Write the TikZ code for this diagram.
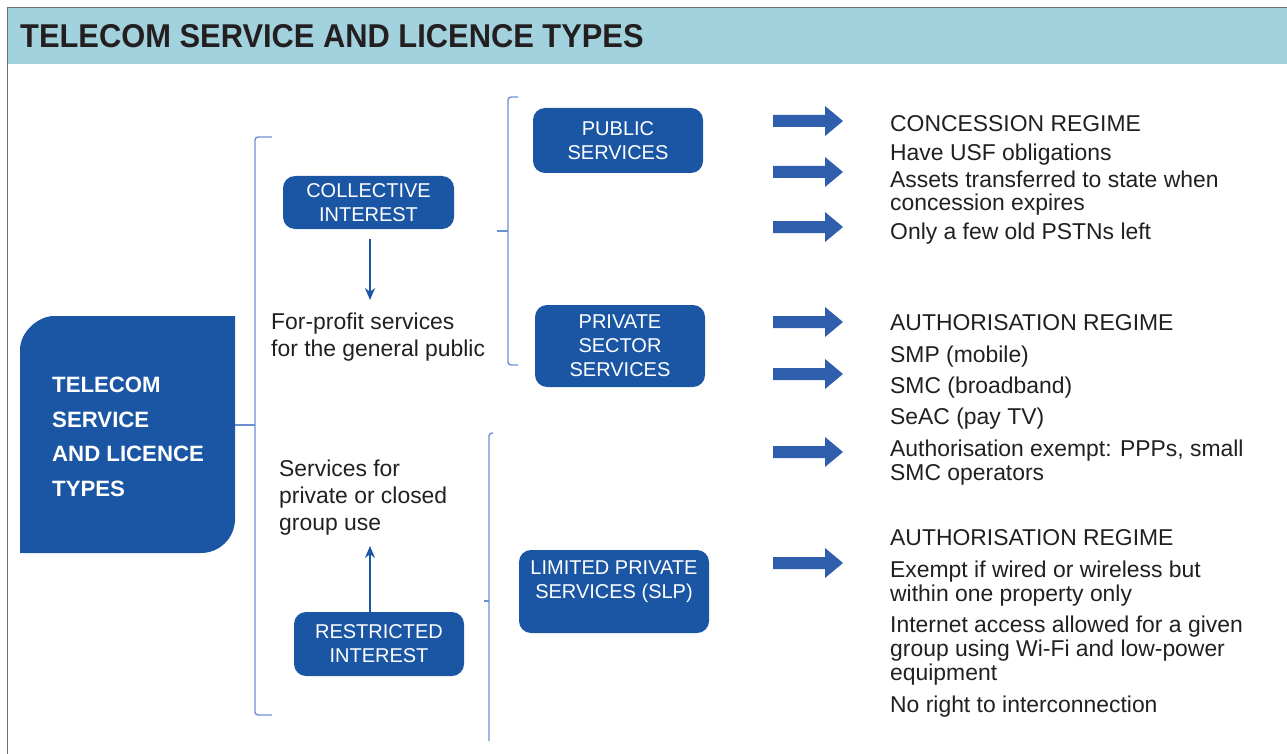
\documentclass[tikz,border=0pt]{standalone}
\usepackage{fontspec}
\setmainfont{Liberation Sans}
\usetikzlibrary{arrows.meta}

\definecolor{boxblue}{HTML}{1B56A4}
\definecolor{bracketblue}{HTML}{6B90D2}
\definecolor{bandblue}{HTML}{A3D2DF}
\definecolor{arrowblue}{HTML}{2E5EAC}
\definecolor{inkdark}{HTML}{231F20}
\definecolor{framegrey}{HTML}{6E6E6E}

\begin{document}
\begin{tikzpicture}[x=1pt,y=-1pt,
  svcbox/.style={fill=boxblue, rounded corners=12pt, inner sep=0pt, text=white,
    align=center, font=\fontsize{20}{24}\selectfont},
  plain/.style={anchor=base west, inner sep=0pt, text=inkdark,
    font=\fontsize{22.9}{27}\selectfont},
  bracket/.style={draw=bracketblue, line width=1.4pt, rounded corners=3pt},
  thinarrow/.style={draw=boxblue, line width=1.2pt, -{Stealth[length=12pt,width=10pt]}},
  blockarrow/.style={fill=arrowblue}]

\useasboundingbox (0,0) rectangle (1287,754);

% frame and title band
\fill[bandblue] (8,8) rectangle (1287,64);
\draw[framegrey, line width=1.5pt] (7.5,754) -- (7.5,7.5) -- (1287,7.5);
\node[anchor=base west, inner sep=0pt, text=inkdark,
      font=\fontsize{33}{33}\selectfont\bfseries] (title) at (20,48)
  {\scalebox{0.935}[1]{TELECOM SERVICE AND LICENCE TYPES}};

% main block, rounded at top-left and bottom-right
\fill[boxblue] (20,553) -- (20,350) .. controls (20,331.2) and (38.8,316) .. (54,316)
  -- (235,316) -- (235,519) .. controls (235,537.8) and (219.8,553) .. (201,553) -- cycle;
\node[anchor=west, inner sep=0pt, text=white, align=left,
      font=\fontsize{22.2}{34.5}\selectfont\bfseries] (main) at (52,437)
  {TELECOM\\SERVICE\\AND LICENCE\\TYPES};
\coordinate (mainport) at (235,425);

% first-level bracket
\draw[bracket] (272,137) -- (255,137) -- (255,715) -- (272,715);
\draw[bracket, rounded corners=0pt] (mainport) -- (255,425);

% collective interest branch
\node[svcbox, minimum width=171pt, minimum height=53pt] (ci) at (368.5,202.5)
  {COLLECTIVE\\INTEREST};
\node[plain] (fp1) at (271,329) {For-profit services};
\node[plain] (fp2) at (271,356) {for the general public};
\draw[thinarrow] ([yshift=-10pt]ci.south -| 370,0) -- (370,300);

% restricted interest branch
\node[plain] (sv1) at (279,476) {Services for};
\node[plain] (sv2) at (279,503) {private or closed};
\node[plain] (sv3) at (279,530) {group use};
\node[svcbox, minimum width=170pt, minimum height=64pt] (ri) at (379,644)
  {RESTRICTED\\INTEREST};
\draw[thinarrow] ([yshift=-4pt]ri.north -| 370,0) -- (370,546);

% second-level bracket: collective interest
\draw[bracket] (518,97) -- (508,97) -- (508,365) -- (518,365);
\draw[bracket, rounded corners=0pt] (497,231) -- (508,231);

% second-level bracket: restricted interest
\draw[bracket] (493,433) -- (489,433) -- (489,741);
\draw[bracket, rounded corners=0pt] (484,601) -- (489,601);

% service boxes
\node[svcbox, minimum width=170pt, minimum height=65pt] (pub) at (618,140.5)
  {PUBLIC\\SERVICES};
\node[svcbox, minimum width=170pt, minimum height=82pt] (priv) at (620,346)
  {PRIVATE\\SECTOR\\SERVICES};
\node[svcbox, minimum width=190pt, minimum height=83pt] (slp) at (614,591.5) {};
\node[inner sep=0pt, text=white, align=center,
      font=\fontsize{20}{24}\selectfont] (slptext) at (614,582)
  {LIMITED PRIVATE\\SERVICES (SLP)};

% block arrows
\foreach \y in {121,172,227,322,374,452,563}
  \fill[blockarrow] (773,\y-6) -- (825,\y-6) -- (825,\y-15) -- (843,\y)
    -- (825,\y+15) -- (825,\y+6) -- (773,\y+6) -- cycle;

% concession regime
\node[plain] (c1) at (890,132) {CONCESSION REGIME};
\node[plain] (c2) at (890,161) {Have USF obligations};
\node[plain] (c3) at (890,188) {Assets transferred to state when};
\node[plain] (c4) at (890,211) {concession expires};
\node[plain] (c5) at (890,240) {Only a few old PSTNs left};

% authorisation regime, private sector
\node[plain] (a1) at (890,330) {AUTHORISATION REGIME};
\node[plain] (a2) at (890,362) {SMP (mobile)};
\node[plain] (a3) at (890,393) {SMC (broadband)};
\node[plain] (a4) at (890,424) {SeAC (pay TV)};
\node[plain] (a5) at (890,456) {Authorisation exempt: PPPs, small};
\node[plain] (a6) at (890,480) {SMC operators};

% authorisation regime, limited private services
\node[plain] (l1) at (890,545) {AUTHORISATION REGIME};
\node[plain] (l2) at (890,577) {Exempt if wired or wireless but};
\node[plain] (l3) at (890,601) {within one property only};
\node[plain] (l4) at (890,632) {Internet access allowed for a given};
\node[plain] (l5) at (890,656) {group using Wi-Fi and low-power};
\node[plain] (l6) at (890,680) {equipment};
\node[plain] (l7) at (890,712) {No right to interconnection};

\end{tikzpicture}
\end{document}
